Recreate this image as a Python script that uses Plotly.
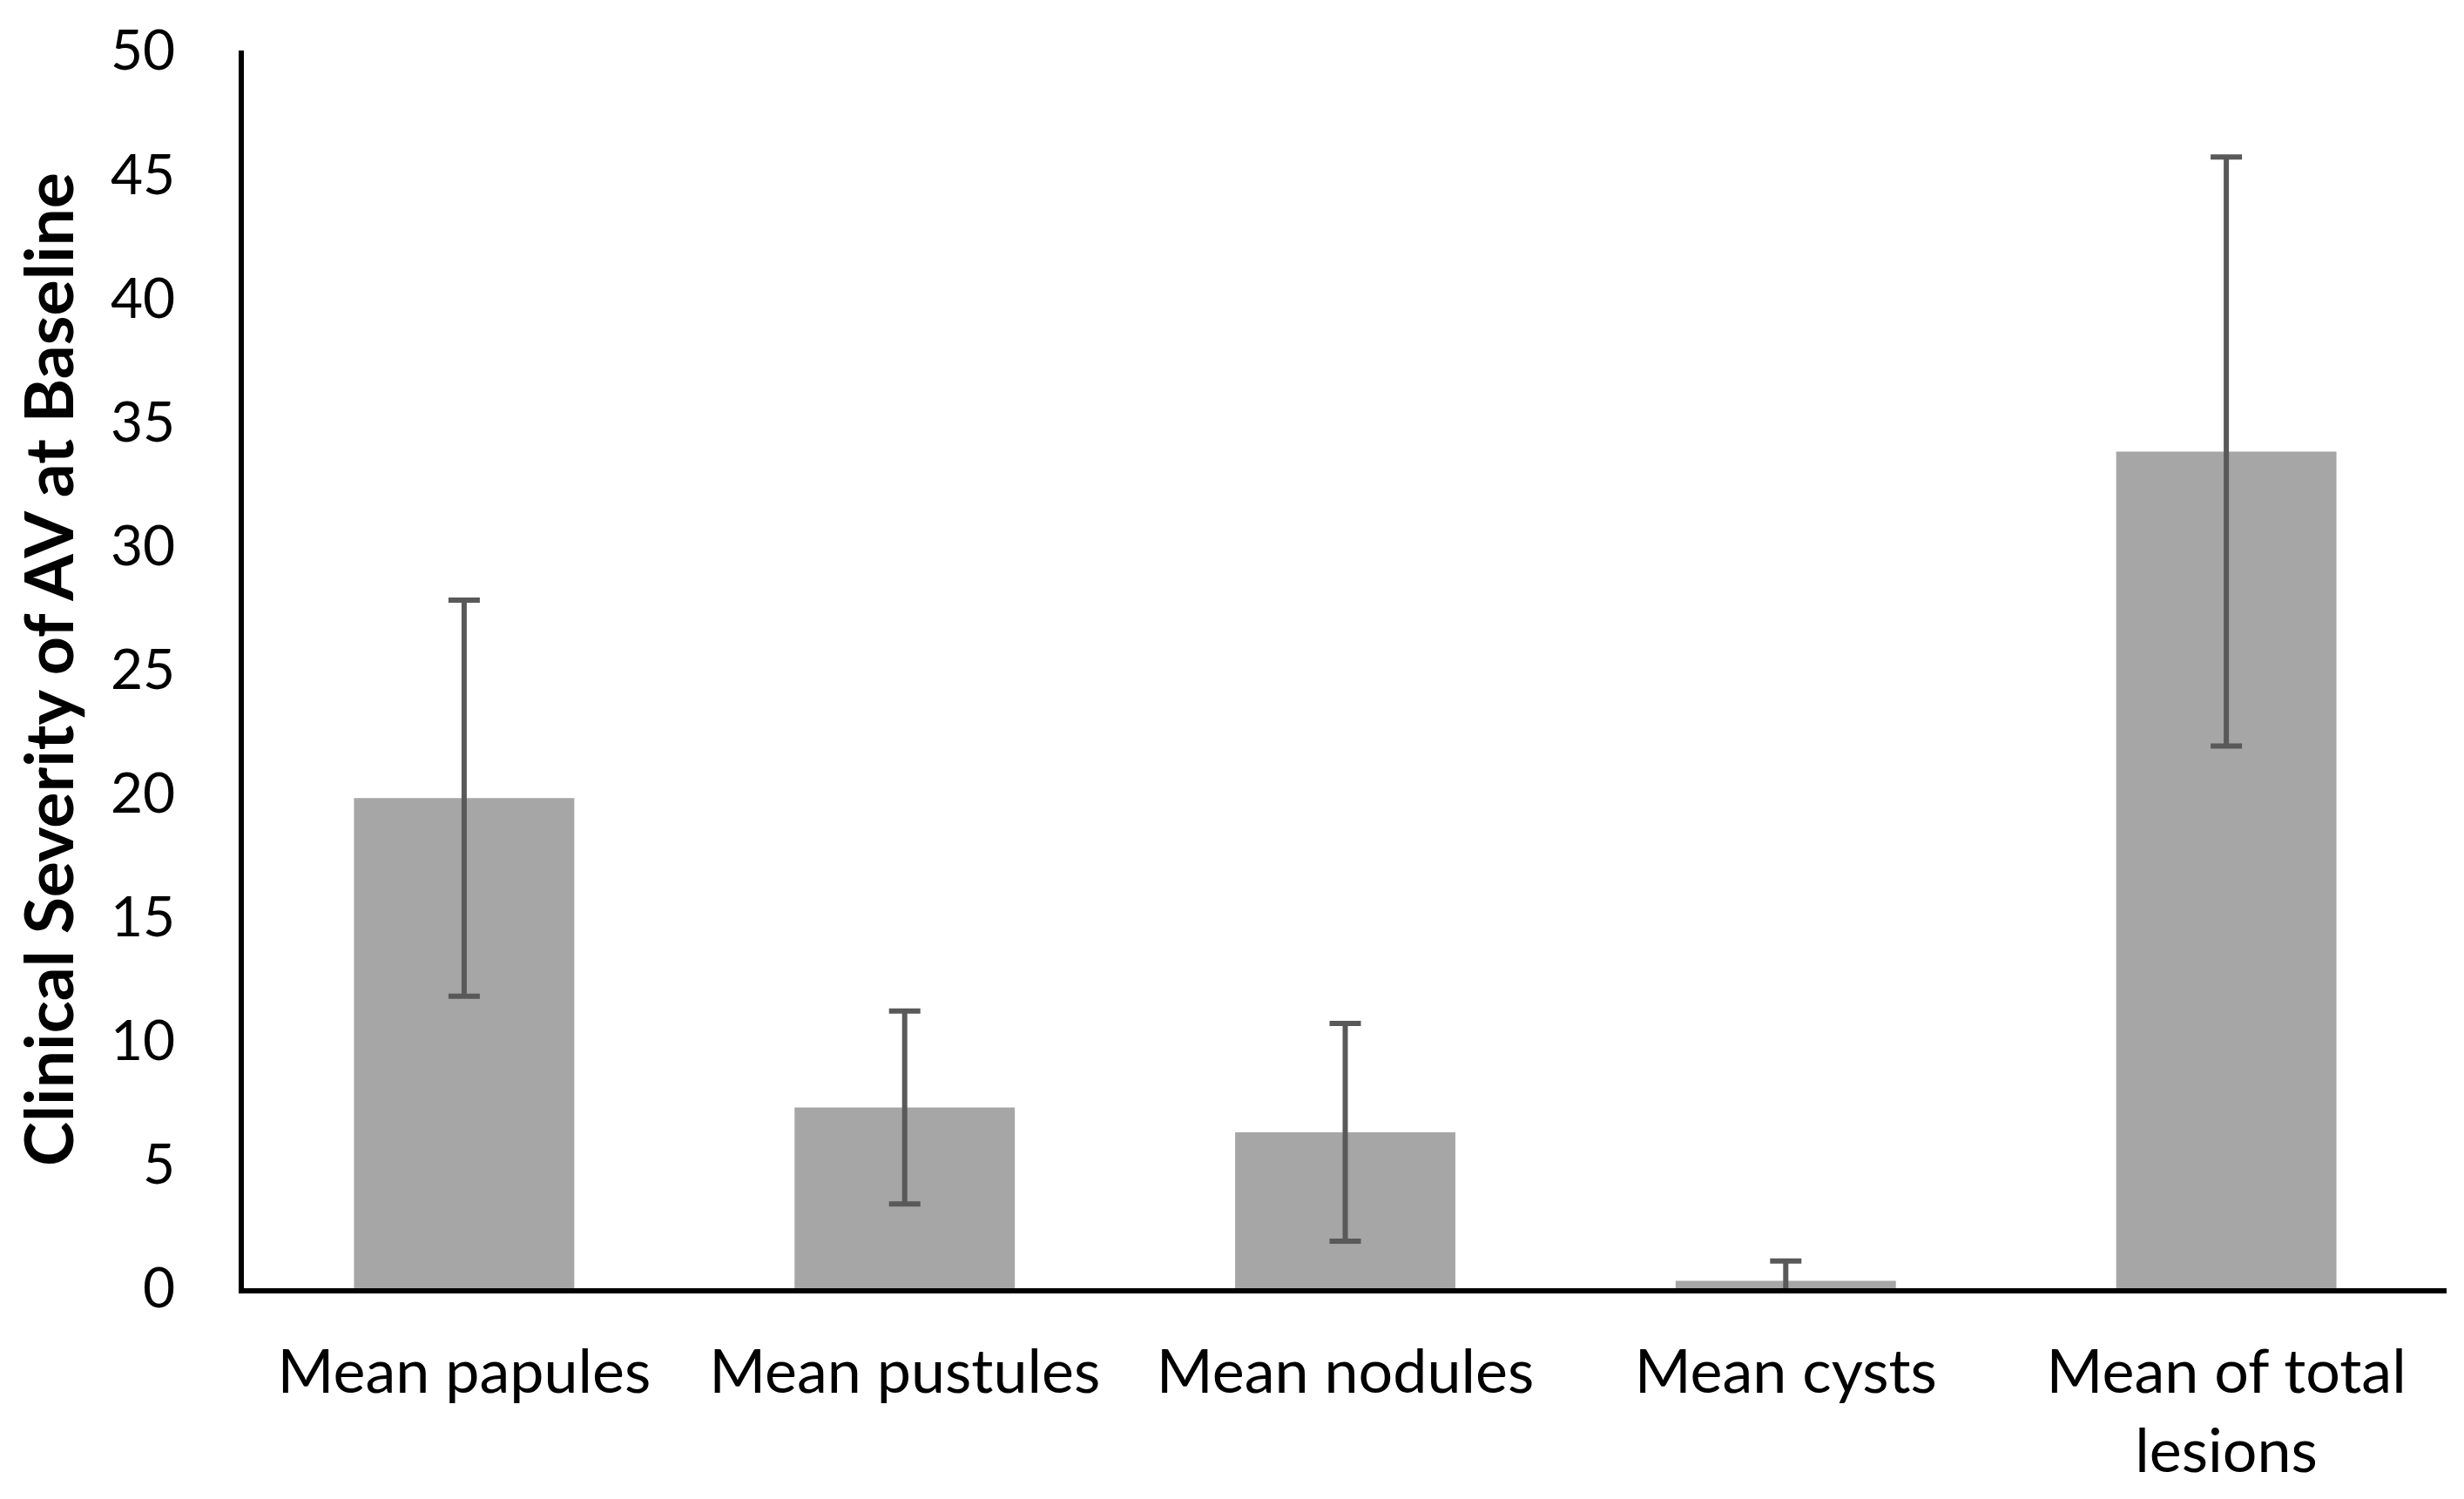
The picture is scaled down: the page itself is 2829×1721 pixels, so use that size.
"""Clinical severity of AV at baseline — bar chart with SD error bars."""

import plotly.graph_objects as go

categories = [
    "Mean papules",
    "Mean pustules",
    "Mean nodules",
    "Mean cysts",
    "Mean of total<br>lesions",
]
means = [19.8, 7.3, 6.3, 0.3, 33.8]
errors = [8.0, 3.9, 4.4, 0.8, 11.9]
y_ticks = [0, 5, 10, 15, 20, 25, 30, 35, 40, 45, 50]

FONT = "Lato"

fig = go.Figure()

fig.add_trace(
    go.Bar(
        x=categories,
        y=means,
        marker_color="#a6a6a6",
        marker_line_width=0,
        error_y=dict(
            type="data",
            array=errors,
            visible=True,
            color="#595959",
            thickness=6,
            width=18,
        ),
    )
)

# page body adds ~8px offset, so margins are trimmed to land the plot area
fig.update_layout(
    width=2829,
    height=1721,
    margin=dict(l=272, r=28, t=50, b=250, autoexpand=False),
    paper_bgcolor="white",
    plot_bgcolor="white",
    bargap=0.5,
    showlegend=False,
    font=dict(family=FONT, size=60, color="black"),
)

fig.update_xaxes(
    showline=True,
    linecolor="black",
    linewidth=6,
    showgrid=False,
    ticks="",
    tickfont=dict(size=70),
    ticklabelstandoff=30,
)

fig.update_yaxes(
    range=[0, 50],
    tickvals=y_ticks,
    showline=True,
    linecolor="black",
    linewidth=6,
    showgrid=False,
    zeroline=False,
    ticks="",
    tickfont=dict(size=64),
    ticklabelstandoff=60,
    title=dict(
        text="<b>Clinical Severity of AV at Baseline</b>",
        font=dict(size=77),
        standoff=30,
    ),
)

fig.write_html("out.html")
